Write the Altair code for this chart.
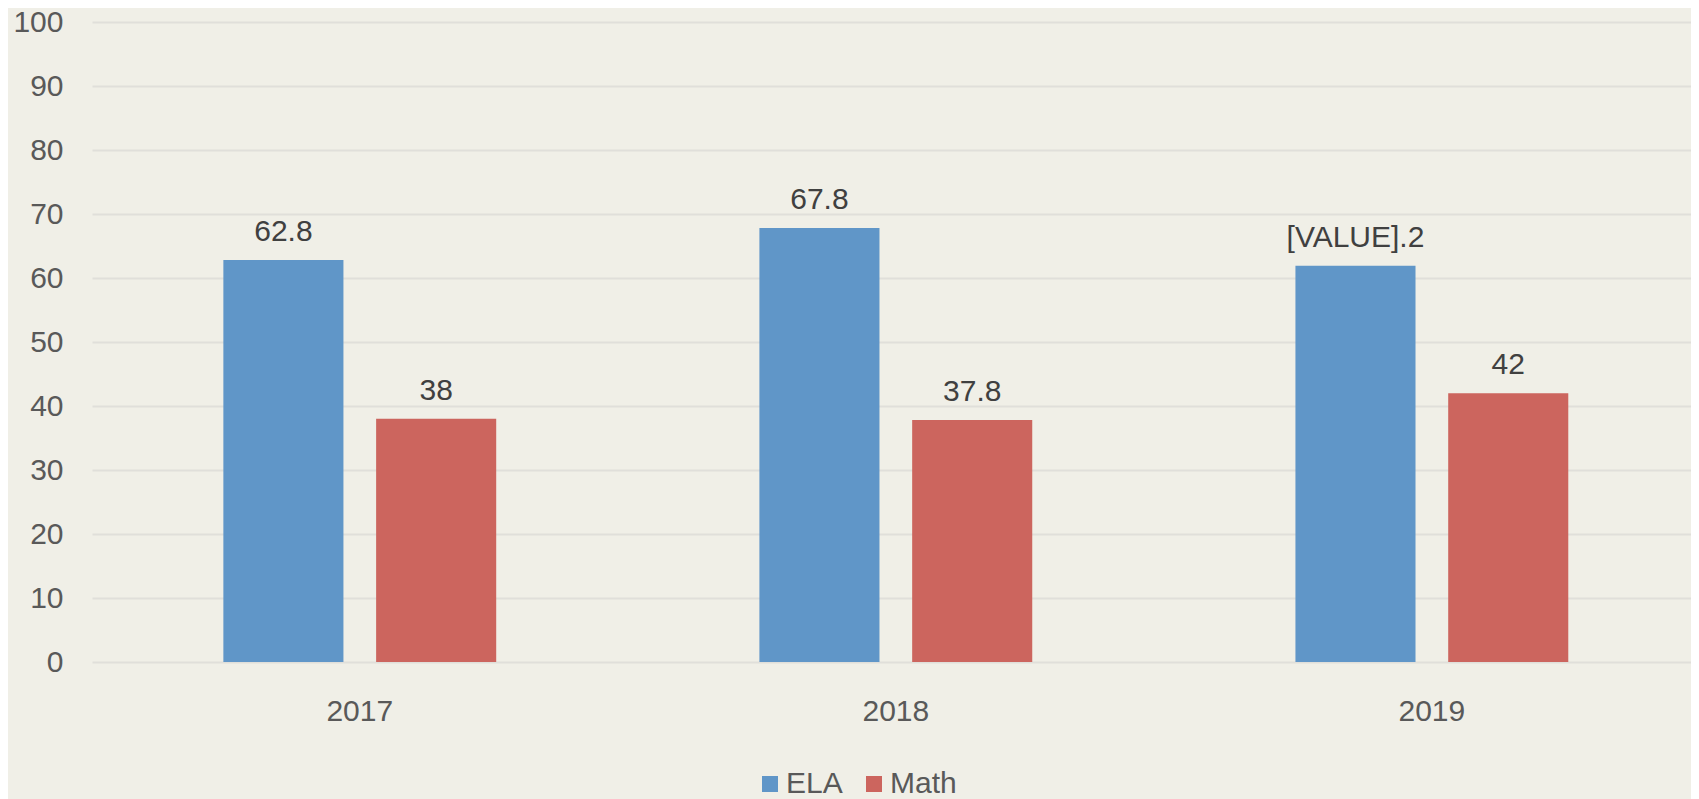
import altair as alt
import pandas as pd

years = ["2017", "2018", "2019"]
subjects = ["ELA", "Math"]
ela_values = [62.8, 67.8, 61.9]
math_values = [38, 37.8, 42]
ela_labels = ["62.8", "67.8", "[VALUE].2"]
math_labels = ["38", "37.8", "42"]
y_ticks = [0, 10, 20, 30, 40, 50, 60, 70, 80, 90, 100]
colors = ["#6096c8", "#cc655e"]

rows = []
for i, yr in enumerate(years):
    rows.append({"year": yr, "subject": "ELA", "value": ela_values[i], "label": ela_labels[i]})
    rows.append({"year": yr, "subject": "Math", "value": math_values[i], "label": math_labels[i]})
df = pd.DataFrame(rows)

FONT = "Liberation Sans"

x = alt.X(
    "year:N",
    sort=years,
    scale=alt.Scale(paddingInner=0.491, paddingOuter=0.237, align=0.517),
    axis=alt.Axis(title=None, labelAngle=0, domain=False, ticks=False, tickSize=0,
                  labelPadding=34, labelFontSize=30, labelColor="#595959", labelFont=FONT),
)
xo = alt.XOffset("subject:N", sort=subjects, scale=alt.Scale(paddingInner=0.214, paddingOuter=0))
y = alt.Y(
    "value:Q",
    scale=alt.Scale(domain=[0, 100]),
    axis=alt.Axis(values=y_ticks, title=None, domain=False, ticks=False, tickSize=0,
                  labelPadding=29, labelFontSize=30, labelColor="#595959", labelFont=FONT,
                  grid=True, gridColor="#e0dfda", gridWidth=2),
)
color = alt.Color(
    "subject:N",
    sort=subjects,
    scale=alt.Scale(domain=subjects, range=colors),
    legend=alt.Legend(title=None, orient="none", legendX=663, legendY=747, direction="horizontal",
                      symbolType="square", symbolSize=256, symbolStrokeWidth=0,
                      labelFontSize=30, labelColor="#595959", labelFont=FONT,
                      labelOffset=1, columnPadding=16, padding=0),
)

bars = alt.Chart(df).mark_bar().encode(x=x, xOffset=xo, y=y, color=color)
labels = alt.Chart(df).mark_text(baseline="alphabetic", dy=-19, fontSize=30, color="#404040", font=FONT).encode(
    x=x, xOffset=xo, y=y, text="label:N"
)

chart = (
    alt.layer(bars, labels)
    .properties(width=1599, height=640, background="#f0efe7",
                autosize=alt.AutoSizeParams(type="none"),
                padding={"left": 84, "top": 14, "right": 0, "bottom": 137})
    .configure_view(stroke=None)
)

chart.save("out.html", embed_options={"renderer": "svg", "actions": False})
